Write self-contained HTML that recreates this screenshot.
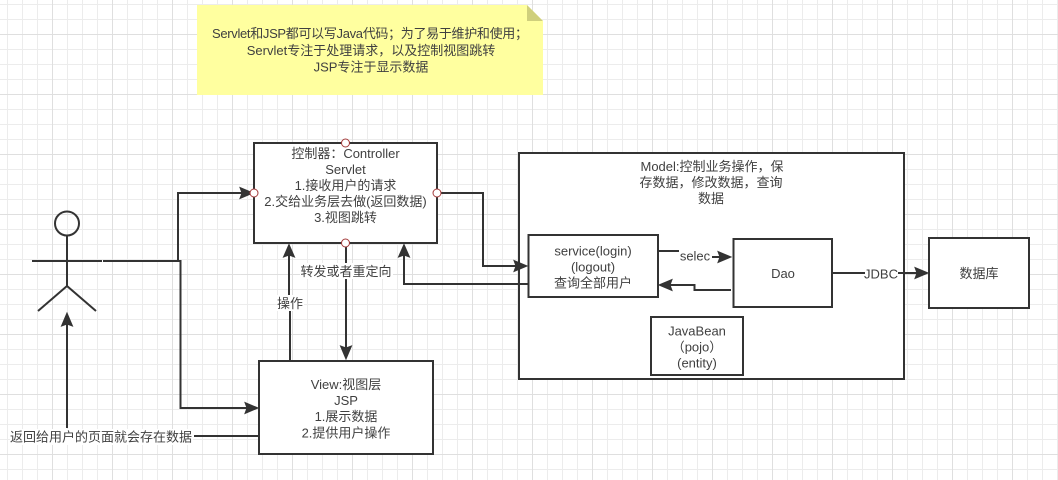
<!DOCTYPE html>
<html><head><meta charset="utf-8"><style>
html,body{margin:0;padding:0;background:#fff;width:1058px;height:480px;overflow:hidden}
svg{display:block}
text{font-family:"Liberation Sans","Noto Sans CJK SC",sans-serif;font-size:13px;fill:#404040;text-anchor:middle}
.b{fill:#fff;stroke:#333;stroke-width:2}
.l{fill:none;stroke:#333;stroke-width:2}
.a{fill:#333;stroke:#333;stroke-width:1}
.p{fill:#fff;stroke:#a33a3a;stroke-width:1}
</style></head><body>
<svg width="1058" height="480" viewBox="0 0 1058 480" xmlns="http://www.w3.org/2000/svg">
<defs>
<pattern id="g" x="7" y="4" width="15" height="15" patternUnits="userSpaceOnUse"><path d="M.5 0V15M0 .5H15" stroke="#ececec" stroke-width="1" fill="none"/></pattern>
<pattern id="G" x="52" y="34" width="60" height="60" patternUnits="userSpaceOnUse"><path d="M.5 0V60M0 .5H60" stroke="#dfdfdf" stroke-width="1" fill="none"/></pattern>
</defs>
<rect width="1058" height="480" fill="#fff"/>
<rect width="1058" height="480" fill="url(#g)"/>
<rect width="1058" height="480" fill="url(#G)"/>

<!-- note -->
<path d="M197 5H527L543 21V95H197Z" fill="#ffff9f"/>
<path d="M527 5L543 21H527Z" fill="#cfcf7c"/>
<text x="370" y="38" textLength="316" lengthAdjust="spacing">Servlet和JSP都可以写Java代码；为了易于维护和使用；</text>
<text x="371" y="55">Servlet专注于处理请求，以及控制视图跳转</text>
<text x="371" y="71.500">JSP专注于显示数据</text>

<!-- boxes -->
<rect class="b" x="254" y="143" width="183" height="100"/>
<rect class="b" x="259" y="361" width="174" height="93"/>
<rect class="b" x="519" y="153" width="385" height="226"/>
<rect class="b" x="528.500" y="235" width="129.500" height="62"/>
<rect class="b" x="733.500" y="239" width="98.500" height="68"/>
<rect class="b" x="651" y="317" width="92" height="58"/>
<rect class="b" x="929" y="238" width="100" height="70"/>

<!-- actor -->
<circle class="l" cx="67" cy="223.500" r="12"/>
<path class="l" d="M67 236V286M32 261H102M67 286L38 311M67 286L96 311"/>

<!-- connectors -->
<path class="l" d="M103 261H178V193H242"/>
<polygon class="a" points="253,193 240,187.500 242,193 240,198.500"/>
<path class="l" d="M103 261H180.500V408H247"/>
<polygon class="a" points="258,408 245,402.500 247,408 245,413.500"/>
<path class="l" d="M67 428V322"/>
<polygon class="a" points="67,313 61.500,326 67,324 72.500,326"/>
<path class="l" d="M194 436H259"/>
<path class="l" d="M437 193H483V266H517"/>
<polygon class="a" points="527,266 514,260.500 516,266 514,271.500"/>
<path class="l" d="M528 284H404V254"/>
<polygon class="a" points="404,244.500 398.500,257 404,255 409.500,257"/>
<path class="l" d="M290 361V310H289V254"/>
<polygon class="a" points="289,244.500 283.500,257 289,255 294.500,257"/>
<path class="l" d="M346 243V349"/>
<polygon class="a" points="346,359 340.500,346 346,348 351.500,346"/>
<path class="l" d="M658 251H696V257H720"/>
<polygon class="a" points="731,257 718,251.500 720,257 718,262.500"/>
<path class="l" d="M731 290H694.500V285H669"/>
<polygon class="a" points="659,285 672,279.500 670,285 672,290.500"/>
<path class="l" d="M832 273H917"/>
<polygon class="a" points="928,273 915,267.500 917,273 915,278.500"/>

<!-- label backgrounds -->
<rect x="10" y="429" width="183" height="16" fill="#fff"/>
<rect x="277" y="295" width="27" height="16" fill="#fff"/>
<rect x="300" y="263" width="93" height="16" fill="#fff"/>
<rect x="679" y="248" width="33" height="16" fill="#fff"/>
<rect x="865" y="266" width="33" height="15" fill="#fff"/>

<!-- ports -->
<circle class="p" cx="345.500" cy="143" r="4"/>
<circle class="p" cx="254" cy="193" r="4"/>
<circle class="p" cx="437" cy="193" r="4"/>
<circle class="p" cx="345.500" cy="243" r="4"/>

<!-- text -->
<text x="345.500" y="158">控制器：Controller</text>
<text x="345.500" y="174">Servlet</text>
<text x="345.500" y="190">1.接收用户的请求</text>
<text x="345.500" y="206">2.交给业务层去做(返回数据)</text>
<text x="345.500" y="222">3.视图跳转</text>

<text x="346" y="389">View:视图层</text>
<text x="346" y="405">JSP</text>
<text x="346" y="421">1.展示数据</text>
<text x="346" y="437.500">2.提供用户操作</text>

<text x="712" y="171">Model:控制业务操作，保</text>
<text x="711" y="187">存数据，修改数据，查询</text>
<text x="711" y="203">数据</text>

<text x="593" y="255.500">service(login)</text>
<text x="593" y="271.500">(logout)</text>
<text x="593" y="287.500">查询全部用户</text>
<text x="783" y="278">Dao</text>
<text x="697" y="335.500">JavaBean</text>
<text x="697" y="351.500">（pojo）</text>
<text x="697" y="367.500">(entity)</text>
<text x="979" y="278">数据库</text>

<text x="881" y="278.500">JDBC</text>
<text x="695" y="260.500">selec</text>
<text x="346" y="276">转发或者重定向</text>
<text x="290" y="308">操作</text>
<text x="101" y="441.500">返回给用户的页面就会存在数据</text>
</svg>
</body></html>
